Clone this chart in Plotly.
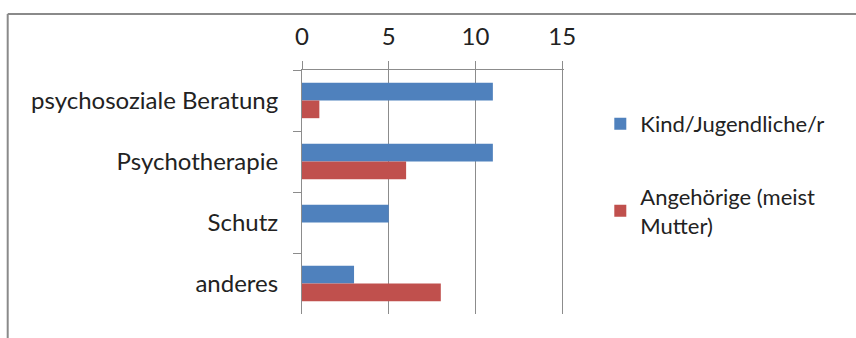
import plotly.graph_objects as go

categories = ["psychosoziale Beratung", "Psychotherapie", "Schutz", "anderes"]
kind_values = [11, 11, 5, 3]
angehoerige_values = [1, 6, 0, 8]
series_names = ["Kind/Jugendliche/r", "Angehörige (meist<br>Mutter)"]
x_ticks = [0, 5, 10, 15]
x_range = [0, 15.1]

W, H = 856, 338
L, T, B = 302, 70, 314
R = L + 260 * x_range[1] / 15

fig = go.Figure()
fig.add_trace(go.Bar(y=categories, x=kind_values, orientation="h", name=series_names[0],
                     marker=dict(color="#4F81BD", line=dict(width=0)), legendgroup="a"))
fig.add_trace(go.Bar(y=categories, x=angehoerige_values, orientation="h", name=series_names[1],
                     marker=dict(color="#C0504D", line=dict(width=0)), legendgroup="b"))
# empty helper trace so the label-only top axis is drawn
fig.add_trace(go.Scatter(x=[None], y=[categories[0]], xaxis="x2", mode="markers",
                         showlegend=False, hoverinfo="skip"))

FAM = "Lato, 'Open Sans', sans-serif"
font = dict(family=FAM, size=24, color="#222222")

pw = R - L
ph = B - T
def px(xp):
    return (xp - L) / pw
def py(yp):
    return (B - yp) / ph

fig.update_layout(
    width=W, height=H,
    margin=dict(l=L, r=W - R, t=T, b=H - B),
    paper_bgcolor="white", plot_bgcolor="white",
    barmode="group", bargap=0.42, bargroupgap=0,
    font=font,
    showlegend=True,
    legend=dict(x=px(600), xanchor="left", y=py(103), yanchor="top",
                traceorder="grouped", tracegroupgap=41,
                font=dict(family=FAM, size=22, color="#222222"),
                itemwidth=30, bgcolor="rgba(0,0,0,0)"),
    xaxis=dict(side="top", range=x_range, tickvals=x_ticks, showticklabels=False,
               showgrid=True, gridcolor="#8c8c8c", gridwidth=1,
               showline=True, linecolor="#8c8c8c", linewidth=1,
               ticks="outside", ticklen=8, tickcolor="#8c8c8c",
               zeroline=False, fixedrange=True),
    xaxis2=dict(overlaying="x", side="top", range=x_range, tickvals=x_ticks,
                ticktext=[str(v) for v in x_ticks], showgrid=False, showline=False,
                ticks="", ticklabelstandoff=19, zeroline=False, fixedrange=True),
    yaxis=dict(type="category", autorange="reversed",
               showline=True, linecolor="#8c8c8c", linewidth=1,
               ticks="outside", ticklen=8, tickcolor="#8c8c8c", tickson="boundaries",
               ticklabelstandoff=18, showgrid=False, zeroline=False, fixedrange=True),
    shapes=[
        dict(type="line", xref="paper", yref="paper", x0=px(8), x1=px(W + 20), y0=py(14), y1=py(14),
             line=dict(color="#8a8a8a", width=2)),
        dict(type="line", xref="paper", yref="paper", x0=px(8), x1=px(8), y0=py(14), y1=py(H + 20),
             line=dict(color="#8a8a8a", width=2)),
    ],
)

fig.write_html("out.html")
